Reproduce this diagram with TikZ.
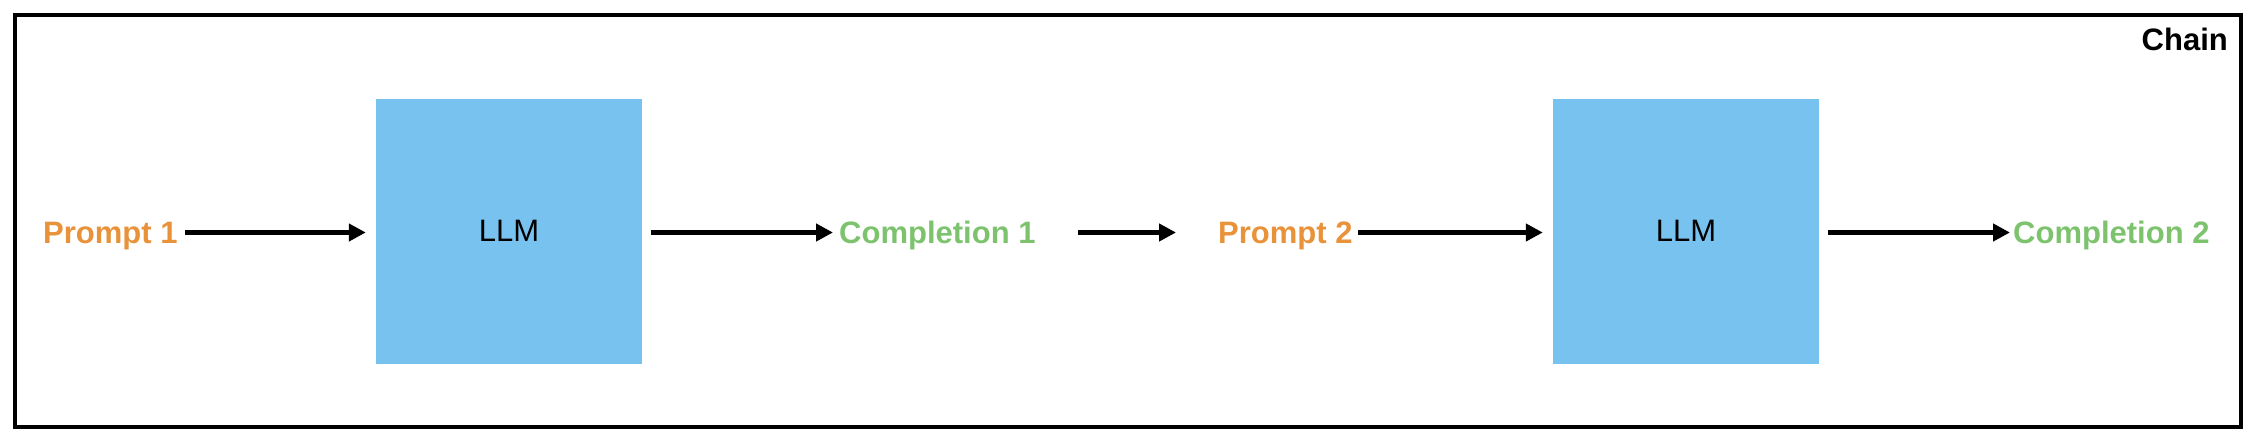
\documentclass[tikz,border=0pt]{standalone}
\usepackage{fontspec}
\setmainfont{Liberation Sans}
\usetikzlibrary{arrows.meta}
\definecolor{promptc}{HTML}{E8923A}
\definecolor{complc}{HTML}{7DC36E}
\definecolor{llmc}{HTML}{78C2F0}
\begin{document}
\begin{tikzpicture}[x=1pt,y=-1pt,
  lbl/.style={font=\fontsize{31}{37}\selectfont\bfseries, inner sep=0pt, text height=22pt, text depth=0pt, anchor=west},
  prompt/.style={lbl, text=promptc},
  compl/.style={lbl, text=complc},
  llmbox/.style={fill=llmc, minimum width=266pt, minimum height=265pt, inner sep=0pt, font=\fontsize{31}{37}\selectfont},
  conn/.style={line width=4.5pt, -{Triangle[length=17pt,width=17pt]}},
  frame/.style={draw, line width=4pt}]
\useasboundingbox (0,0) rectangle (2258,442);
\node[frame, minimum width=2226pt, minimum height=412pt, inner sep=0pt] (fr) at (1127.5,220.5) {};
\node[font=\fontsize{31}{37}\selectfont\bfseries, inner sep=0pt, anchor=base east] (chain) at (2228,50) {Chain};
\node[prompt] (p1) at (43,232.5) {Prompt 1};
\node[llmbox] (llm1) at (509,231) {LLM};
\node[compl] (c1) at (839,232.5) {Completion 1};
\node[prompt] (p2) at (1218,232.5) {Prompt 2};
\node[llmbox] (llm2) at (1686,231) {LLM};
\node[compl] (c2) at (2013,232.5) {Completion 2};
\draw[conn, shorten <=7pt, shorten >=10pt] (p1.east) -- (p1.east -| llm1.west);
\draw[conn, shorten <=9pt, shorten >=6pt] (c1.west -| llm1.east) -- (c1.west);
\draw[conn, shorten <=42pt, shorten >=42pt] (c1.east) -- (p2.west);
\draw[conn, shorten <=5pt, shorten >=10pt] (p2.east) -- (p2.east -| llm2.west);
\draw[conn, shorten <=9pt, shorten >=3pt] (c2.west -| llm2.east) -- (c2.west);
\end{tikzpicture}
\end{document}
